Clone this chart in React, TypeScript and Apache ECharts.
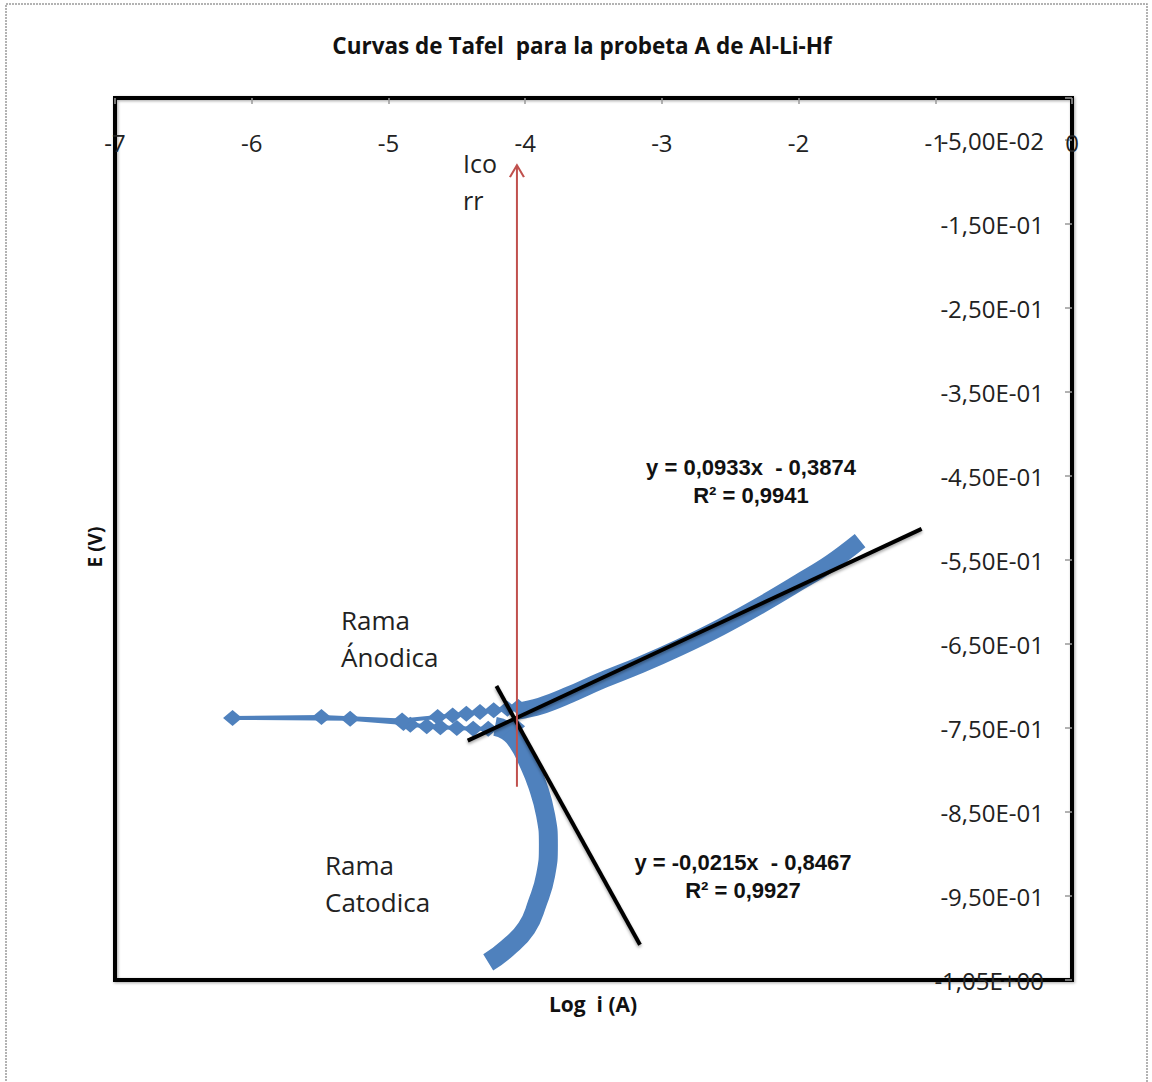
import React, { useEffect, useRef } from 'react';
import * as echarts from 'echarts';

// ---- Data (log i in A, E in V) ----
// Cathodic branch (dense band), from most negative potential upward
const cathLogI = [-4.27, -4.13, -3.99, -3.91, -3.85, -3.83, -3.85, -3.91, -3.98, -4.05, -4.13, -4.22];
const cathE = [-1.029, -1.012, -0.988, -0.958, -0.925, -0.889, -0.854, -0.818, -0.79, -0.768, -0.754, -0.748];

// Points around the corrosion potential (sparse diamonds)
const nearLogI = [-4.07, -4.16, -4.27, -4.38, -4.5, -4.62, -4.72, -4.84, -4.89, -5.28, -6.14, -5.49, -4.9, -4.64, -4.53, -4.43, -4.33, -4.23, -4.13, -4.05];
const nearE = [-0.748, -0.75, -0.751, -0.751, -0.75, -0.749, -0.748, -0.746, -0.744, -0.739, -0.738, -0.737, -0.741, -0.737, -0.735, -0.733, -0.731, -0.729, -0.727, -0.725];

// Anodic branch (dense band)
const anodLogI = [-4.06, -3.89, -3.67, -3.45, -3.16, -2.87, -2.57, -2.28, -1.99, -1.77, -1.55];
const anodE = [-0.73, -0.724, -0.71, -0.694, -0.675, -0.654, -0.63, -0.604, -0.576, -0.554, -0.527];

// Tafel fit lines (end points)
const fitAnodLogI = [-4.42, -1.1];
const fitAnodE = [-0.765, -0.513];
const fitCathLogI = [-4.21, -3.16];
const fitCathE = [-0.7, -1.008];

// Icorr arrow
const icorrLogI = [-4.06, -4.06];
const icorrE = [-0.82, -0.08];

const xMin = -7;
const xMax = 0;
const yMin = -1.05;
const yMax = 0;

const titleText = 'Curvas de Tafel  para la probeta A de Al-Li-Hf';
const eqAnod = ['y = 0,0933x  - 0,3874', 'R² = 0,9941'];
const eqCath = ['y = -0,0215x  - 0,8467', 'R² = 0,9927'];

const BLUE = '#4F81BD';
const FONT = "'Open Sans', sans-serif";

const zip = (a: number[], b: number[]) => a.map((v, i) => [v, b[i]]);

function fmtE(v: number): string {
  if (Math.abs(v) < 1e-9) return '';
  const s = v.toExponential(2);
  const [m, e] = s.split('e');
  const sign = e[0] === '-' ? '-' : '+';
  const digits = e.replace(/[+-]/, '').padStart(2, '0');
  return m.replace('.', ',') + 'E' + sign + digits;
}

export default function App() {
  const ref = useRef<HTMLDivElement>(null);
  useEffect(() => {
    if (!ref.current) return;
    const chart = echarts.init(ref.current, undefined, { renderer: 'svg' });
    const fitStyle = { color: '#000', width: 4, shadowColor: 'rgba(0,0,0,0.35)', shadowBlur: 3, shadowOffsetY: 2 };
    const option: any = {
      animation: false,
      backgroundColor: '#fff',
      grid: {
        left: 115,
        top: 98,
        width: 957,
        height: 882,
        show: true,
        borderColor: '#000',
        borderWidth: 4,
        shadowColor: 'rgba(0,0,0,0.35)',
        shadowBlur: 3,
        shadowOffsetX: 1,
        shadowOffsetY: 1,
      },
      xAxis: {
        type: 'value',
        position: 'top',
        min: xMin,
        max: xMax,
        interval: 1,
        axisLine: { show: false },
        axisTick: { show: true, inside: true, length: 6, lineStyle: { color: '#999', width: 1.5 } },
        splitLine: { show: false },
        axisLabel: {
          inside: true,
          margin: 32,
          fontFamily: FONT,
          fontSize: 24,
          color: '#222',
          showMinLabel: true,
          showMaxLabel: true,
          formatter: (v: number) => String(Math.round(v)),
        },
      },
      yAxis: {
        type: 'value',
        position: 'right',
        min: yMin,
        max: yMax,
        interval: 0.1,
        axisLine: { show: false },
        axisTick: { show: true, inside: true, length: 7, lineStyle: { color: '#999', width: 1.5 } },
        splitLine: { show: false },
        axisLabel: {
          inside: true,
          margin: 28,
          fontFamily: FONT,
          fontSize: 24,
          color: '#222',
          formatter: (v: number) => fmtE(v),
        },
      },
      graphic: [
        {
          type: 'rect',
          silent: true,
          shape: { x: 6, y: 4, width: 1141, height: 1100 },
          style: { fill: 'none', stroke: '#9a9a9a', lineWidth: 1.5, lineDash: [2, 1] },
          z: -10,
        },
        {
          type: 'text',
          x: 582,
          y: 45,
          style: { text: titleText, font: `bold 22.5px ${FONT}`, fill: '#111', align: 'center', verticalAlign: 'middle' },
        },
        {
          type: 'text',
          x: 95,
          y: 547,
          rotation: Math.PI / 2,
          style: { text: 'E (V)', font: `bold 19px ${FONT}`, fill: '#111', align: 'center', verticalAlign: 'middle' },
        },
        {
          type: 'text',
          x: 593,
          y: 1004,
          style: { text: 'Log  i (A)', font: `bold 21px ${FONT}`, fill: '#111', align: 'center', verticalAlign: 'middle' },
        },
        {
          type: 'text',
          x: 463,
          y: 181,
          style: { text: 'Ico\nrr', font: `25px ${FONT}`, lineHeight: 37, fill: '#222', align: 'left', verticalAlign: 'middle' },
        },
        {
          type: 'text',
          x: 341,
          y: 638,
          style: { text: 'Rama\nÁnodica', font: `26px ${FONT}`, lineHeight: 37, fill: '#222', align: 'left', verticalAlign: 'middle' },
        },
        {
          type: 'text',
          x: 325,
          y: 883,
          style: { text: 'Rama\nCatodica', font: `26px ${FONT}`, lineHeight: 37, fill: '#222', align: 'left', verticalAlign: 'middle' },
        },
        {
          type: 'text',
          x: 751,
          y: 481,
          style: { text: eqAnod.join('\n'), font: `bold 22px 'Liberation Sans', Arial, sans-serif`, lineHeight: 28, fill: '#111', align: 'center', verticalAlign: 'middle' },
        },
        {
          type: 'text',
          x: 743,
          y: 876,
          style: { text: eqCath.join('\n'), font: `bold 22px 'Liberation Sans', Arial, sans-serif`, lineHeight: 28, fill: '#111', align: 'center', verticalAlign: 'middle' },
        },
      ],
      series: [
        {
          type: 'line',
          name: 'near',
          data: zip(nearLogI, nearE),
          symbol: 'diamond',
          symbolSize: [19, 16],
          showSymbol: true,
          showAllSymbol: true,
          itemStyle: { color: BLUE },
          lineStyle: { color: BLUE, width: 4 },
          z: 2,
        },
        {
          type: 'line',
          name: 'cathodic',
          data: zip(cathLogI, cathE),
          smooth: 0.5,
          showSymbol: false,
          lineStyle: { color: BLUE, width: 19, cap: 'butt', join: 'round' },
          z: 2,
        },
        {
          type: 'line',
          name: 'anodic',
          data: zip(anodLogI, anodE),
          smooth: 0.4,
          showSymbol: false,
          lineStyle: { color: BLUE, width: 17, cap: 'butt', join: 'round' },
          z: 2,
        },
        {
          type: 'line',
          name: 'fitAnod',
          data: zip(fitAnodLogI, fitAnodE),
          showSymbol: false,
          lineStyle: fitStyle,
          z: 3,
        },
        {
          type: 'line',
          name: 'fitCath',
          data: zip(fitCathLogI, fitCathE),
          showSymbol: false,
          lineStyle: fitStyle,
          z: 3,
        },
        {
          type: 'line',
          name: 'icorr',
          data: zip(icorrLogI, icorrE).map((p, i) =>
            i === 1
              ? {
                  value: p,
                  symbol: 'path://M0,12 L7,0 L14,12',
                  symbolSize: [14, 12],
                  symbolOffset: [0, 6],
                  itemStyle: { color: 'rgba(0,0,0,0)', borderColor: '#C0504D', borderWidth: 2 },
                }
              : { value: p, symbol: 'none' }
          ),
          showSymbol: true,
          showAllSymbol: true,
          lineStyle: { color: '#C0504D', width: 2 },
          z: 4,
        },
      ],
    };
    chart.setOption(option);
    return () => chart.dispose();
  }, []);
  return (
    <div
      ref={ref}
      style={{ position: 'absolute', left: 0, top: 0, width: 1152, height: 1082, background: '#fff' }}
    />
  );
}
